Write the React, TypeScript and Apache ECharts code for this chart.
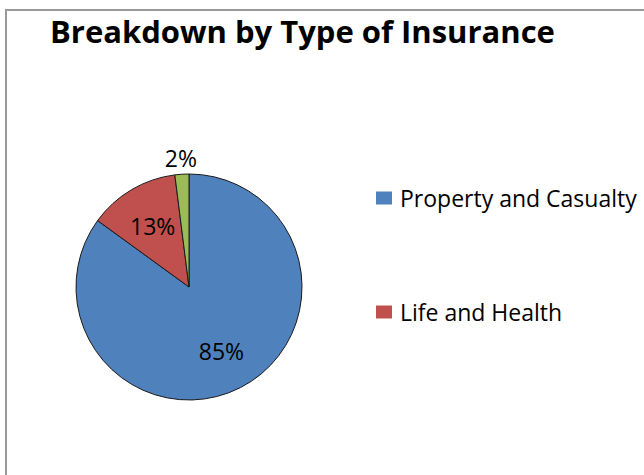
import React, { useEffect, useRef } from "react";
import * as echarts from "echarts";

const TITLE = "Breakdown by Type of Insurance";
const categories = ["Property and Casualty", "Life and Health", "Other"];
const values = [85, 13, 2];
const colors = ["#4F81BD", "#C0504D", "#9BBB59"];
const legendItems = ["Property and Casualty", "Life and Health"];

const CENTER = [189, 287];
const RADIUS = 113;
const FONT = "'Open Sans', 'Noto Sans', sans-serif";

export default function App() {
  const ref = useRef<HTMLDivElement>(null);
  useEffect(() => {
    if (!ref.current) return;
    const chart = echarts.init(ref.current, undefined, { renderer: "svg" });
    chart.setOption({
      animation: false,
      backgroundColor: "#ffffff",
      title: {
        text: TITLE,
        left: 50,
        top: 15,
        padding: 0,
        textStyle: { fontFamily: FONT, fontWeight: "bold", fontSize: 31, color: "#000" },
      },
      graphic: [
        {
          type: "rect",
          shape: { x: 6, y: 10, width: 700, height: 520 },
          style: { fill: "none", stroke: "#9a9a9a", lineWidth: 2 },
          silent: true,
        },
      ],
      legend: {
        orient: "vertical",
        left: 376,
        top: 186,
        padding: 0,
        itemWidth: 16,
        itemHeight: 13,
        itemGap: 90,
        icon: "rect",
        itemStyle: { borderWidth: 0 },
        data: legendItems,
        textStyle: { fontFamily: FONT, fontSize: 23, color: "#000", lineHeight: 24, padding: [0, 0, 0, 3] },
      },
      series: [
        {
          type: "pie",
          center: CENTER,
          radius: RADIUS,
          startAngle: 90,
          clockwise: true,
          data: categories.map((name, i) => ({ name, value: values[i], itemStyle: { color: colors[i] } })),
          itemStyle: { borderColor: "#1a1a1a", borderWidth: 1 },
          label: {
            show: true,
            position: "inside",
            formatter: "{d}%",
            fontFamily: FONT,
            fontSize: 23,
            color: "#000",
          },
          labelLine: { show: false },
          labelLayout: (params: any) => {
            const r = params.labelRect;
            const lx = r.x + r.width / 2;
            const ly = r.y + r.height / 2;
            const total = values.reduce((a, b) => a + b, 0);
            const share = values[params.dataIndex] / total;
            const k = share < 0.05 ? 2.18 : 1.2;
            return {
              x: CENTER[0] + (lx - CENTER[0]) * k,
              y: CENTER[1] + (ly - CENTER[1]) * k,
              align: "center",
              verticalAlign: "middle",
            };
          },
        },
      ],
    });
    return () => chart.dispose();
  }, []);
  return (
    <div
      ref={ref}
      style={{ position: "fixed", left: 0, top: 0, width: 644, height: 475, background: "#fff" }}
    />
  );
}
